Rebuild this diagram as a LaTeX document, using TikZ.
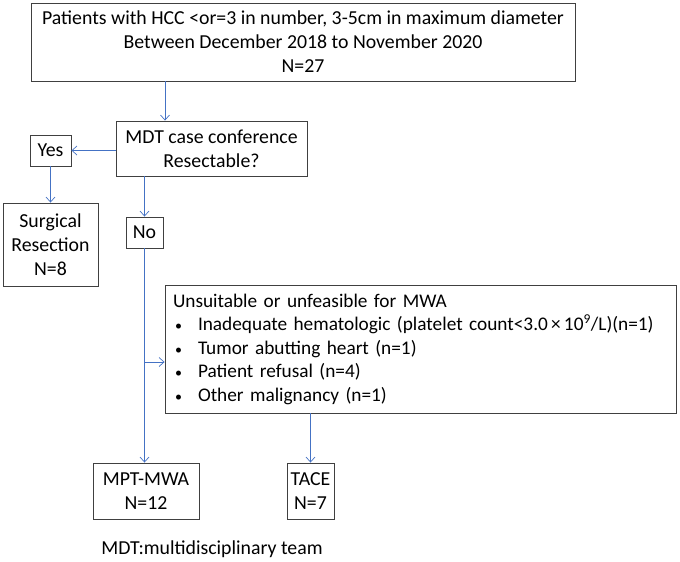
\documentclass[tikz,border=0pt]{standalone}
\usepackage{fontspec}
\setmainfont{Carlito}
\usetikzlibrary{arrows.meta,positioning}

\definecolor{flowblue}{HTML}{4472C4}
\definecolor{boxgray}{HTML}{404040}

\newcommand{\bulletitem}{\hspace*{2pt}\makebox[23pt][l]{\fontsize{14}{14}\selectfont\textbullet}}

\tikzset{
  box/.style={draw=boxgray, line width=0.9pt, inner sep=0pt, align=center,
    font=\fontsize{19.8}{24}\selectfont},
  flow/.style={draw=flowblue, line width=0.7pt,
    -{Straight Barb[length=5pt,width=9pt,line width=0.7pt]}},
}

\begin{document}
\begin{tikzpicture}[x=1pt,y=-1pt]
  \useasboundingbox (0,0) rectangle (680,562);

  % boxes
  \node[box, minimum width=544pt, minimum height=78pt] (patients) at (303,42)
    {Patients with HCC <or=3 in number, 3-5cm in maximum diameter\\
     Between December 2018 to November 2020\\ N=27};
  \node[box, minimum width=191pt, minimum height=55pt] (mdt) at (211.5,148.5)
    {MDT case conference\\ Resectable?};
  \node[box, minimum width=41pt, minimum height=31pt] (yes) at (50.5,150.5) {Yes};
  \node[box, minimum width=95pt, minimum height=83pt] (surgery) at (50.5,244.5)
    {Surgical\\ Resection\\ N=8};
  \node[box, minimum width=37pt, minimum height=31pt] (no) at (144.5,232.5) {No};
  \node[box, minimum width=511pt, minimum height=128pt, align=left,
        text width=495pt, font=\fontsize{19.3}{23.5}\selectfont] (unsuitable) at (420.5,349)
    {Unsuitable or unfeasible for MWA\\
     \bulletitem Inadequate hematologic (platelet count<3.0\,×\,10\textsuperscript{9}/L)(n=1)\\
     \bulletitem Tumor abutting heart (n=1)\\
     \bulletitem Patient refusal (n=4)\\
     \bulletitem Other malignancy (n=1)};
  \node[box, minimum width=106pt, minimum height=56pt] (mptmwa) at (146,491)
    {MPT-MWA\\ N=12};
  \node[box, minimum width=47pt, minimum height=56pt] (tace) at (310.5,491)
    {TACE\\ N=7};
  \node[font=\fontsize{19.8}{24}\selectfont] (note) at (212,549) {MDT:multidisciplinary team};

  % helper points
  \coordinate (downx) at (165,0);
  \coordinate (branch) at (144.5,362);

  % connectors
  \draw[flow] (patients.south -| downx) -- (mdt.north -| downx);
  \draw[flow] (mdt.west |- yes.east) -- (yes.east);
  \draw[flow] (yes.south) -- (surgery.north);
  \draw[flow] (mdt.south -| no.north) -- (no.north);
  \draw[flow] (no.south) -- (mptmwa.north -| no.south);
  \draw[flow] (branch) -- (branch -| unsuitable.west);
  \draw[flow] (unsuitable.south -| tace.north) -- (tace.north);
\end{tikzpicture}
\end{document}
